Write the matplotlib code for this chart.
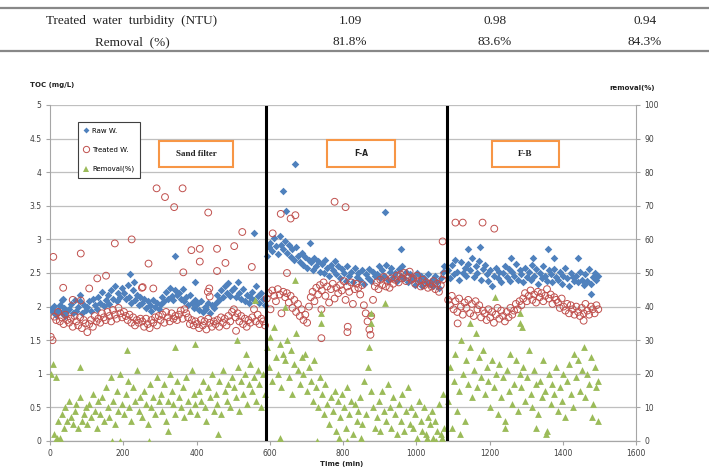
import numpy as np
import matplotlib.pyplot as plt
from matplotlib.patches import Rectangle
from matplotlib.lines import Line2D

# ---- table above the chart ----
table_head = ['Media', 'Sand  filter', 'F-A', 'F-B']
table_rows = ['Treated  water  turbidity  (NTU)', 'Removal  (%)']
turbidity = ['1.09', '0.98', '0.94']
removal_tbl = ['81.8%', '83.6%', '84.3%']

# ---- readings every 5 min, one list per filter period ----
step = 5
start_sand, start_fa, start_fb = 2, 592, 1087
filter_change = [589, 1084]
box_labels = ['Sand filter', 'F-A', 'F-B']

raw_sand = [1.97, 1.92, 2.01, 1.88, 1.95, 2.03, 1.90, 1.98, 1.86, 1.94,
            1.96, 2.04, 1.90, 2.10, 1.93, 1.99, 2.08, 1.91, 2.02, 1.95,
            2.00, 2.09, 1.94, 2.12, 2.03, 1.97, 2.15, 2.05, 2.22, 2.01,
            2.10, 2.18, 2.04, 2.25, 2.12, 2.30, 2.08, 2.20, 2.14, 2.27,
            2.20, 2.12, 2.32, 2.15, 2.06, 2.24, 2.10, 2.18, 2.02, 2.14,
            2.05, 2.12, 1.98, 2.08, 2.02, 1.94, 2.10, 2.00, 2.06, 1.96,
            2.04, 2.15, 2.08, 2.22, 2.12, 2.28, 2.16, 2.10, 2.25, 2.18,
            2.20, 2.12, 2.26, 2.08, 2.15, 2.02, 2.18, 2.06, 1.98, 2.10,
            2.04, 1.95, 2.08, 1.92, 2.00, 1.96, 2.06, 1.90, 2.02, 1.98,
            2.06, 2.18, 2.10, 2.25, 2.14, 2.30, 2.20, 2.35, 2.16, 2.24,
            2.28, 2.15, 2.36, 2.20, 2.12, 2.26, 2.08, 2.18, 2.05, 2.14,
            2.22, 2.10, 2.30, 2.16, 2.06, 2.20, 2.12, 2.02]
trt_sand = [1.55, 1.50, 1.85, 1.80, 1.92, 1.78, 1.84, 1.74, 1.88, 1.80,
            1.76, 1.82, 1.70, 1.86, 1.78, 1.72, 1.84, 1.68, 1.80, 1.75,
            1.62, 1.74, 1.80, 1.70, 1.86, 1.78, 1.82, 1.76, 1.90, 1.84,
            1.80, 1.92, 1.86, 1.78, 1.95, 1.88, 1.82, 1.98, 1.90, 1.84,
            1.92, 1.86, 1.80, 1.88, 1.76, 1.84, 1.72, 1.80, 1.76, 1.82,
            1.78, 1.70, 1.82, 1.74, 1.68, 1.80, 1.76, 1.84, 1.72, 1.86,
            1.80, 1.88, 1.76, 1.92, 1.84, 1.78, 1.90, 1.82, 1.86, 1.80,
            1.88, 1.94, 1.82, 1.96, 1.90, 1.84, 1.74, 1.80, 1.72, 1.78,
            1.74, 1.68, 1.80, 1.72, 1.78, 1.66, 1.82, 1.76, 1.70, 1.78,
            1.74, 1.80, 1.70, 1.84, 1.76, 1.82, 1.72, 1.86, 1.78, 1.92,
            1.96, 1.84, 1.90, 1.78, 1.86, 1.74, 1.82, 1.70, 1.80, 1.76,
            1.84, 1.96, 1.78, 1.88, 1.74, 1.82, 1.78, 1.72]
rem_sand = [20, 23, 2, 19, 6, 1, 8, 4, 10, 6,
            12, 7, 5, 9, 11, 4, 13, 6, 8, 10,
            5, 11, 7, 14, 9, 4, 12, 8, 13, 6,
            16, 10, 7, 19, 12, 5, 15, 9, 20, 11,
            8, 14, 18, 10, 6, 16, 12, 21, 9, 13,
            7, 15, 11, 5, 17, 10, 13, 8, 19, 12,
            14, 9, 17, 6, 12, 20, 15, 11, 8, 18,
            13, 10, 16, 7, 19, 12, 9, 21, 14, 11,
            8, 15, 12, 18, 10, 6, 16, 13, 20, 9,
            14, 11, 18, 8, 21, 15, 12, 17, 10, 19,
            16, 13, 22, 9, 18, 14, 20, 11, 17, 23,
            15, 19, 12, 21, 17, 10, 20, 14]

raw_fa = [2.75, 2.88, 2.95, 2.82, 3.02, 2.90, 2.78, 3.05, 2.92, 2.85,
          2.98, 2.80, 2.92, 2.74, 2.86, 2.70, 2.88, 2.76, 2.66, 2.80,
          2.62, 2.74, 2.58, 2.70, 2.66, 2.55, 2.72, 2.60, 2.68, 2.52,
          2.64, 2.50, 2.70, 2.58, 2.46, 2.62, 2.54, 2.68, 2.48, 2.60,
          2.42, 2.56, 2.50, 2.38, 2.60, 2.46, 2.52, 2.36, 2.58, 2.44,
          2.50, 2.40, 2.55, 2.34, 2.48, 2.42, 2.56, 2.38, 2.52, 2.45,
          2.48, 2.60, 2.42, 2.54, 2.46, 2.62, 2.40, 2.52, 2.58, 2.44,
          2.50, 2.38, 2.56, 2.46, 2.60, 2.42, 2.52, 2.36, 2.48, 2.40,
          2.44, 2.32, 2.50, 2.38, 2.46, 2.30, 2.42, 2.36, 2.48, 2.34,
          2.40, 2.30, 2.46, 2.36, 2.28, 2.42, 2.52, 2.60]
trt_fa = [2.12, 2.20, 1.96, 2.24, 2.16, 2.08, 2.26, 2.18, 1.90, 2.22,
          2.14, 2.20, 2.06, 2.16, 1.98, 2.10, 1.92, 2.04, 1.86, 1.96,
          1.80, 1.88, 1.76, 2.00, 2.14, 2.22, 2.08, 2.28, 2.18, 2.32,
          2.24, 2.36, 2.16, 2.30, 2.06, 2.26, 2.34, 2.12, 2.28, 2.20,
          2.32, 2.24, 2.38, 2.10, 2.30, 2.22, 2.36, 2.04, 2.26, 2.34,
          2.28, 2.18, 2.32, 2.02, 1.90, 1.78, 1.66, 1.86, 2.10, 2.30,
          2.36, 2.26, 2.40, 2.32, 2.44, 2.30, 2.38, 2.28, 2.42, 2.34,
          2.40, 2.46, 2.36, 2.48, 2.42, 2.50, 2.38, 2.44, 2.52, 2.40,
          2.42, 2.34, 2.46, 2.38, 2.30, 2.40, 2.32, 2.36, 2.28, 2.34,
          2.30, 2.38, 2.26, 2.34, 2.22, 2.32, 2.40, 2.48]
rem_fa = [28, 22, 31, 18, 34, 25, 20, 29, 16, 26,
          24, 30, 19, 27, 14, 23, 32, 21, 17, 25,
          20, 26, 15, 22, 18, 12, 24, 16, 10, 19,
          14, 8, 17, 11, 5, 13, 9, 15, 3, 12,
          7, 14, 10, 4, 16, 8, 12, 2, 11, 6,
          9, 13, 5, 18, 8, 22, 28, 15, 10, 4,
          7, 12, 3, 15, 9, 6, 17, 10, 4, 13,
          8, 2, 11, 6, 14, 3, 9, 16, 5, 10,
          4, 8, 1, 12, 6, 3, 10, 2, 7, 5,
          9, 1, 6, 3, 11, 2, 14, 4]

raw_fb = [2.55, 2.42, 2.62, 2.48, 2.70, 2.52, 2.40, 2.66, 2.50, 2.58,
          2.46, 2.64, 2.54, 2.72, 2.44, 2.60, 2.50, 2.68, 2.40, 2.56,
          2.62, 2.48, 2.38, 2.54, 2.30, 2.46, 2.58, 2.42, 2.52, 2.36,
          2.50, 2.60, 2.44, 2.56, 2.38, 2.52, 2.46, 2.64, 2.40, 2.54,
          2.48, 2.36, 2.58, 2.44, 2.52, 2.40, 2.62, 2.46, 2.56, 2.34,
          2.50, 2.42, 2.60, 2.46, 2.38, 2.54, 2.48, 2.36, 2.56, 2.44,
          2.40, 2.52, 2.34, 2.46, 2.58, 2.42, 2.30, 2.50, 2.44, 2.38,
          2.46, 2.36, 2.52, 2.40, 2.32, 2.48, 2.38, 2.56, 2.34, 2.44,
          2.50, 2.40, 2.46]
trt_fb = [2.10, 2.02, 2.16, 1.96, 2.08, 1.92, 2.12, 2.00, 1.88, 2.06,
          1.98, 2.10, 1.90, 2.04, 1.86, 2.08, 1.96, 2.02, 1.84, 1.94,
          1.90, 1.80, 1.96, 1.84, 1.92, 1.76, 1.88, 1.98, 1.82, 1.94,
          1.86, 1.78, 1.92, 1.84, 1.98, 1.88, 1.94, 2.04, 1.96, 2.08,
          2.02, 2.12, 2.20, 2.08, 2.16, 2.24, 2.10, 2.18, 2.06, 2.22,
          2.14, 2.20, 2.08, 2.16, 2.26, 2.12, 2.18, 2.04, 2.14, 2.10,
          2.06, 1.98, 2.12, 2.00, 1.94, 2.04, 1.90, 2.02, 1.96, 1.88,
          2.00, 1.92, 1.86, 1.98, 1.90, 2.04, 1.94, 1.88, 2.00, 1.96,
          1.90, 2.02, 1.96]
rem_fb = [12, 22, 4, 18, 26, 9, 15, 30, 20, 6,
          24, 17, 28, 13, 21, 32, 16, 25, 19, 27,
          14, 22, 18, 10, 24, 16, 20, 8, 23, 13,
          19, 6, 21, 15, 26, 11, 17, 24, 9, 20,
          16, 22, 12, 19, 27, 14, 10, 21, 17, 8,
          18, 13, 24, 15, 3, 20, 11, 17, 14, 22,
          9, 16, 12, 20, 7, 18, 23, 14, 10, 26,
          19, 24, 15, 21, 28, 13, 20, 17, 25, 11,
          22, 16, 18]

# stray readings away from the main bands
raw_odd_t = [33, 36, 82, 218, 229, 341, 395, 557, 635, 644, 668, 709, 916, 957,
             1141, 1175, 1259, 1320, 1361, 1375, 1443, 1478]
raw_odd_v = [2.10, 2.12, 2.18, 2.49, 2.37, 2.76, 2.36, 3.09, 3.72, 3.42, 4.12, 2.94, 3.41, 2.86,
             2.86, 2.88, 2.72, 2.72, 2.86, 2.72, 2.72, 2.19]
trt_odd_t = [9, 36, 62, 84, 84, 107, 129, 153, 177, 223,
             253, 269, 282, 291, 314, 339, 362, 364, 386, 409,
             409, 432, 435, 456, 456, 479, 503, 525, 551, 608,
             630, 647, 657, 670, 741, 741, 777, 807, 812, 813,
             875, 1072, 1107, 1127, 1181, 1213, 1113, 1457,
             431, 436, 508, 251]
trt_odd_v = [2.74, 2.28, 2.10, 2.79, 2.09, 2.27, 2.42, 2.46, 2.94, 3.00,
             2.29, 2.64, 2.27, 3.76, 3.63, 3.48, 3.76, 2.51, 2.84, 2.86,
             2.67, 3.40, 2.27, 2.86, 2.53, 2.65, 2.90, 3.11, 2.59, 3.09,
             3.38, 2.50, 3.31, 3.36, 1.96, 1.53, 3.56, 3.48, 1.62, 1.70,
             1.58, 2.97, 3.25, 3.25, 3.25, 3.16, 1.75, 1.79,
             2.22, 2.15, 1.64, 2.28]
rem_odd_t = [13, 20, 25, 82, 169, 190, 211, 270, 322, 341,
             395, 458, 511, 534, 559, 625, 627, 641, 668, 728,
             741, 741, 790, 812, 850, 877, 877, 916, 1005, 1030,
             1055, 1070, 1120, 1148, 1216, 1241, 1282, 1282, 1290, 1328,
             1353, 1480, 1497]
rem_odd_v = [0, 1, 0, 22, 0, 0, 27, 0, 3, 28,
             29, 2, 30, 26, 42, 0, 1, 40, 48, 0,
             38, 35, 1, 0, 1, 38, 35, 41, 0, 1,
             0, 1, 2, 35, 43, 4, 38, 35, 34, 4,
             2, 7, 6]

blue = '#4F81BD'
red = '#C0504D'
green = '#9BBB59'
orange = '#F79646'
gray = '#BFBFBF'
txt = '#404040'

W, H = 709, 468


def fx(px):
    return px / W


def fy(py):
    return 1 - py / H


def times(start, vals):
    return start + step * np.arange(len(vals))


raw_t = np.concatenate([times(start_sand, raw_sand), times(start_fa, raw_fa),
                        times(start_fb, raw_fb), raw_odd_t])
raw_v = np.concatenate([raw_sand, raw_fa, raw_fb, raw_odd_v])
trt_t = np.concatenate([times(start_sand, trt_sand), times(start_fa, trt_fa),
                        times(start_fb, trt_fb), trt_odd_t])
trt_v = np.concatenate([trt_sand, trt_fa, trt_fb, trt_odd_v])
rem_t = np.concatenate([times(start_sand, rem_sand), times(start_fa, rem_fa),
                        times(start_fb, rem_fb), rem_odd_t])
rem_v = np.concatenate([rem_sand, rem_fa, rem_fb, rem_odd_v])

fig = plt.figure(figsize=(W / 100, H / 100), dpi=100)

# table
serif = 'Liberation Serif'
col_x = [132, 350, 495, 645]
for x, s in zip(col_x, table_head):
    fig.text(fx(x), fy(-5), s, ha='center', va='center', fontsize=9.5, family=serif, color='#222222')
for x, s in zip(col_x, [table_rows[0]] + turbidity):
    fig.text(fx(x), fy(21), s, ha='center', va='center', fontsize=9.5, family=serif, color='#222222')
for x, s in zip(col_x, [table_rows[1]] + removal_tbl):
    fig.text(fx(x), fy(42), s, ha='center', va='center', fontsize=9.5, family=serif, color='#222222')
for yy in [8, 51]:
    fig.add_artist(Line2D([0, 1], [fy(yy), fy(yy)], color='#888888', lw=1.6, transform=fig.transFigure))

# chart
ax = fig.add_axes([fx(50), fy(441), fx(636) - fx(50), fy(105) - fy(441)])
ax2 = ax.twinx()

ax.scatter(raw_t, raw_v, marker='D', s=15, color=blue, lw=0, zorder=3)
ax.scatter(trt_t, trt_v, marker='o', s=24, facecolors='none', edgecolors=red, lw=0.7, zorder=4)
ax2.scatter(rem_t, rem_v, marker='^', s=24, color=green, lw=0, zorder=3)
for xv in filter_change:
    ax2.axvline(xv, ymax=0.995, color='black', lw=2.2, zorder=5)

ax.set_xlim(0, 1600)
ax.set_ylim(0, 5)
ax2.set_ylim(0, 100)
ax.set_xticks(np.arange(0, 1601, 200))
ax.set_yticks(np.arange(0, 5.01, 0.5))
ax2.set_yticks(np.arange(0, 101, 10))
ax.set_yticklabels(['%g' % v for v in np.arange(0, 5.01, 0.5)])
ax.yaxis.grid(True, color=gray, lw=0.9)
ax.set_axisbelow(True)

for a in (ax, ax2):
    a.spines['top'].set_visible(False)
    for sp in ('left', 'right', 'bottom'):
        a.spines[sp].set_color('#A6A6A6')
    a.tick_params(labelsize=5.5, labelcolor=txt, color='#A6A6A6', length=3, width=0.8, pad=3)
    a.set_facecolor('none')
ax2.spines['left'].set_visible(False)
ax.spines['right'].set_visible(False)

fig.text(fx(30), fy(85), 'TOC (mg/L)', fontsize=5, fontweight='bold', color='#222222', va='center')
fig.text(fx(655), fy(88), 'removal(%)', fontsize=5, fontweight='bold', color='#222222', va='center', ha='right')
fig.text(fx(342), fy(464), 'Time (min)', fontsize=5, fontweight='bold', color='#222222', va='center', ha='center')

# legend
handles = [Line2D([], [], ls='', marker='D', ms=3, color=blue, mew=0),
           Line2D([], [], ls='', marker='o', ms=4.5, mfc='none', mec=red, mew=0.7),
           Line2D([], [], ls='', marker='^', ms=4.5, color=green, mew=0)]
ax2.legend(handles, ['Raw W.', 'Treated W.', 'Removal(%)'], loc='upper left',
           bbox_to_anchor=(fx(78), fy(122)), bbox_transform=fig.transFigure,
           frameon=True, fancybox=False, edgecolor='#404040', fontsize=5,
           labelspacing=1.9, handlelength=0.8, handletextpad=0.4, borderpad=0.8,
           borderaxespad=0, framealpha=1).get_frame().set_linewidth(0.8)

# filter name boxes
boxes = [(159, 141, 233, 167, 'Liberation Serif'), (327, 140, 395, 167, 'DejaVu Sans'),
         (492, 141, 559, 167, 'Liberation Serif')]
for (x0, y0, x1, y1, fam), lab in zip(boxes, box_labels):
    fig.add_artist(Rectangle((fx(x0), fy(y1)), fx(x1) - fx(x0), fy(y0) - fy(y1), transform=fig.transFigure,
                             fc='white', ec=orange, lw=1.5, zorder=10))
    fig.text(fx((x0 + x1) / 2), fy((y0 + y1) / 2), lab, ha='center', va='center', fontsize=6.5 if fam != 'DejaVu Sans' else 5.5,
             fontweight='bold', family=fam, color='#222222', zorder=11)

fig.savefig('out.png', dpi=100)
